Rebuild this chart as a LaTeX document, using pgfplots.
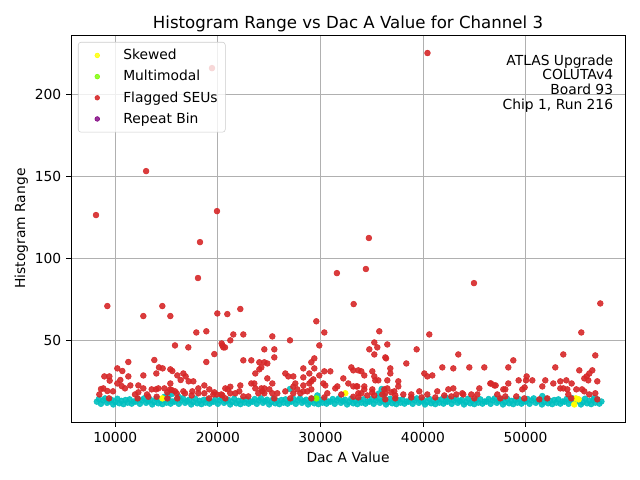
\documentclass[border=0pt]{standalone}
\usepackage{fontspec}
\setmainfont{DejaVu Sans}
\usepackage{pgfplots}
\pgfplotsset{compat=1.18}
\definecolor{cyanc}{HTML}{00BFBF}
\definecolor{redc}{HTML}{D62728}
\definecolor{yelc}{HTML}{FFFF00}
\definecolor{grnc}{HTML}{7CFC00}
\definecolor{purc}{HTML}{800080}
\definecolor{gridc}{HTML}{B0B0B0}
\begin{document}
\begin{tikzpicture}
\useasboundingbox (-0.71in,-0.58in) rectangle (5.69in,4.22in);
\begin{axis}[
  at={(0,0)}, anchor=south west,
  scale only axis, width=5.54in, height=3.87in,
  xmin=5680, xmax=59700, ymin=0.2, ymax=236.2,
  xtick={10000,20000,30000,40000,50000},
  ytick={50,100,150,200},
  scaled ticks=false,
  /pgf/number format/1000 sep={},
  /pgf/number format/assume math mode=true,
  ticklabel style={font=\fontsize{10}{12}\selectfont},
  tick pos=left, tick align=outside,
  major tick length=3.5pt,
  every tick/.style={black, line width=0.6pt},
  axis line style={line width=0.6pt},
  grid=major, grid style={gridc, line width=0.6pt},
  title={Histogram Range vs Dac A Value for Channel 3},
  title style={font=\fontsize{12}{14}\selectfont, yshift=-7pt},
  xlabel={Dac A Value}, ylabel={Histogram Range},
  ylabel style={yshift=-2pt},
  label style={font=\fontsize{10}{12}\selectfont},
  legend cell align=left,
  legend style={at={(0.0126,0.982)}, anchor=north west, draw=gray!40, rounded corners=2pt,
    fill=white, fill opacity=0.8, text opacity=1, font=\fontsize{10}{12}\selectfont,
    row sep=2.2pt, inner xsep=3.5pt, inner ysep=3pt},
  legend image code/.code={\path[draw=none,fill=none] (0cm,-0.05cm) rectangle (0.95cm,0.05cm); \draw[mark size=1.7pt] plot coordinates {(0.36cm,0cm)};},
]
% normal (cyan) band
\addplot[only marks, mark=*, mark size=2.1pt, color=cyanc, fill opacity=0.9, draw opacity=0.9, forget plot] coordinates {
(8200,12.6) (8400,14.2) (8600,11.3) (8800,13.4) (9000,14.6) (9200,11.9) (9400,12.9) (9600,13.8) (9800,10.9) (10000,12.3) (10200,14.4) (10400,11.6) (10600,13.1) (10800,11.1) (11000,13.6) (11200,12.0) (11400,14.0) (11600,11.4) (11800,12.7)
(12000,12.6) (12200,14.2) (12400,11.3) (12600,13.4) (12800,14.6) (13000,11.9) (13200,12.9) (13400,13.8) (13600,10.9) (13800,12.3) (14000,14.4) (14200,11.6) (14400,13.1) (14600,11.1) (14800,13.6) (15000,12.0) (15200,14.0) (15400,11.4) (15600,12.7)
(15800,12.6) (16000,14.2) (16200,11.3) (16400,13.4) (16600,14.6) (16800,11.9) (17000,12.9) (17200,13.8) (17400,10.9) (17600,12.3) (17800,14.4) (18000,11.6) (18200,13.1) (18400,11.1) (18600,13.6) (18800,12.0) (19000,14.0) (19200,11.4) (19400,12.7)
(19600,12.6) (19800,14.2) (20000,11.3) (20200,13.4) (20400,14.6) (20600,11.9) (20800,12.9) (21000,13.8) (21200,10.9) (21400,12.3) (21600,14.4) (21800,11.6) (22000,13.1) (22200,11.1) (22400,13.6) (22600,12.0) (22800,14.0) (23000,11.4) (23200,12.7)
(23400,12.6) (23600,14.2) (23800,11.3) (24000,13.4) (24200,14.6) (24400,11.9) (24600,12.9) (24800,13.8) (25000,10.9) (25200,12.3) (25400,14.4) (25600,11.6) (25800,13.1) (26000,11.1) (26200,13.6) (26400,12.0) (26600,14.0) (26800,11.4) (27000,12.7)
(27200,12.6) (27400,14.2) (27600,11.3) (27800,13.4) (28000,14.6) (28200,11.9) (28400,12.9) (28600,13.8) (28800,10.9) (29000,12.3) (29200,14.4) (29400,11.6) (29600,13.1) (29800,11.1) (30000,13.6) (30200,12.0) (30400,14.0) (30600,11.4) (30800,12.7)
(31000,12.6) (31200,14.2) (31400,11.3) (31600,13.4) (31800,14.6) (32000,11.9) (32200,12.9) (32400,13.8) (32600,10.9) (32800,12.3) (33000,14.4) (33200,11.6) (33400,13.1) (33600,11.1) (33800,13.6) (34000,12.0) (34200,14.0) (34400,11.4) (34600,12.7)
(34800,12.6) (35000,14.2) (35200,11.3) (35400,13.4) (35600,14.6) (35800,11.9) (36000,12.9) (36200,13.8) (36400,10.9) (36600,12.3) (36800,14.4) (37000,11.6) (37200,13.1) (37400,11.1) (37600,13.6) (37800,12.0) (38000,14.0) (38200,11.4) (38400,12.7)
(38600,12.6) (38800,14.2) (39000,11.3) (39200,13.4) (39400,14.6) (39600,11.9) (39800,12.9) (40000,13.8) (40200,10.9) (40400,12.3) (40600,14.4) (40800,11.6) (41000,13.1) (41200,11.1) (41400,13.6) (41600,12.0) (41800,14.0) (42000,11.4) (42200,12.7)
(42400,12.6) (42600,14.2) (42800,11.3) (43000,13.4) (43200,14.6) (43400,11.9) (43600,12.9) (43800,13.8) (44000,10.9) (44200,12.3) (44400,14.4) (44600,11.6) (44800,13.1) (45000,11.1) (45200,13.6) (45400,12.0) (45600,14.0) (45800,11.4) (46000,12.7)
(46200,12.6) (46400,14.2) (46600,11.3) (46800,13.4) (47000,14.6) (47200,11.9) (47400,12.9) (47600,13.8) (47800,10.9) (48000,12.3) (48200,14.4) (48400,11.6) (48600,13.1) (48800,11.1) (49000,13.6) (49200,12.0) (49400,14.0) (49600,11.4) (49800,12.7)
(50000,12.6) (50200,14.2) (50400,11.3) (50600,13.4) (50800,14.6) (51000,11.9) (51200,12.9) (51400,13.8) (51600,10.9) (51800,12.3) (52000,14.4) (52200,11.6) (52400,13.1) (52600,11.1) (52800,13.6) (53000,12.0) (53200,14.0) (53400,11.4) (53600,12.7)
(53800,12.6) (54000,14.2) (54200,11.3) (54400,13.4) (54600,14.6) (54800,11.9) (55000,12.9) (55200,13.8) (55400,10.9) (55600,12.3) (55800,14.4) (56000,11.6) (56200,13.1) (56400,11.1) (56600,13.6) (56800,12.0) (57000,14.0) (57200,11.4) (57400,12.7)
(14800,15.6) (15100,16.5) (15500,17.2) (16200,15.5) (27033,20.3) (35971,20.3) (35700,17.6) (36200,16.2) (51636,16.0) (42200,15.2) (56700,14.8) (29700,16.4)
};
% Skewed
\addplot[only marks, mark=*, mark size=2.1pt, color=yelc] coordinates {
(14586,14.6) (32428,17.7) (54918,14.6) (55178,14.0) (54756,10.9)
};
\addlegendentry{Skewed}
% Multimodal
\addplot[only marks, mark=*, mark size=2.1pt, color=grnc] coordinates {
(29601,14.6)
};
\addlegendentry{Multimodal}
% Flagged SEUs
\addplot[only marks, mark=*, mark size=2.1pt, color=redc, fill opacity=0.9, draw opacity=0.9] coordinates {
(8118,126.4) (13003,153.2) (18258,109.9) (18063,88.0) (19916,128.8) (19428,216.0) (40440,225.2) (44973,84.9) (34727,112.4) (34435,93.5) (31608,91.0)
(9224,70.9) (12734,64.8) (14586,70.9) (15366,64.8) (19948,66.4) (17901,54.8) (18876,55.5) (20436,46.9) (20534,45.7) (15821,46.9) (17121,45.7) (19656,41.6)
(11271,36.8) (13806,38.0) (18876,36.8) (10198,32.9) (10686,31.3) (11271,28.0) (8931,28.0) (9419,28.0) (9451,25.4) (10491,25.8) (10198,23.7) (10621,22.1)
(10946,20.7) (11466,22.5) (12246,22.5) (12734,28.6) (14261,33.5) (14619,32.9) (14001,29.8) (15366,32.3) (15561,31.3) (16049,28.6) (16634,29.8) (16861,28.0)
(16374,25.8) (17154,25.0) (17609,25.0) (15366,23.7) (18681,22.5) (18096,20.7) (19168,20.1) (19656,18.3) (20339,17.0) (8606,20.3) (8834,20.7) (8444,17.0)
(9224,19.1) (9776,18.9) (9386,14.6) (11921,17.0) (12246,18.3) (12181,14.6) (12734,20.7) (13091,17.0) (13221,15.6) (13546,20.1) (13969,20.1) (14196,20.7)
(14034,15.6) (14781,20.7) (15073,18.3) (15334,20.1) (15496,19.7) (15821,18.9) (15984,17.7) (15073,14.6) (16049,14.6) (16634,18.9) (16796,17.7) (17446,16.4)
(17511,18.9) (18096,17.7) (18681,17.7) (19136,14.6) (19559,17.0) (19883,17.0)
(20923,66.0) (22190,69.1) (33241,72.1) (29601,61.6) (30381,54.8) (21508,53.6) (22483,53.6) (25311,52.4) (21215,50.0) (27033,50.0) (20370,48.1) (20696,45.7)
(29893,46.9) (24531,44.5) (25506,44.5) (25506,39.6) (22483,37.8) (23263,37.8) (24043,36.6) (24531,36.6) (24823,35.9) (24238,33.5) (24043,32.3) (29406,39.0)
(29113,36.6) (28333,32.9) (28918,29.8) (29406,32.9) (23653,29.8) (26578,29.8) (26871,28.0) (27358,28.0) (24823,26.8) (28333,27.4) (29308,26.2) (29893,28.6)
(28918,23.7) (29113,25.0) (28333,22.5) (27553,23.7) (23263,23.7) (23555,23.7) (25311,23.7) (22190,22.5) (21215,21.7) (20728,20.7) (20956,20.1) (22093,18.9)
(23653,20.7) (24238,20.7) (24531,20.7) (24336,18.9) (25018,20.1) (26578,18.9) (27358,21.7) (27748,20.1) (28333,18.9) (28723,18.9) (29113,20.1) (28041,17.7)
(27358,17.7) (25798,17.7) (25311,17.7) (24531,17.7) (23946,17.7) (22971,15.8) (22483,15.8) (21703,17.7) (21215,17.7) (20436,16.4) (20728,14.6) (25506,14.6)
(27066,14.6) (29113,14.6) (30381,31.1) (30966,31.1) (30283,23.7) (30478,22.5) (30381,15.2) (30673,17.7) (31453,20.7) (31648,21.9) (32233,26.8) (32721,23.7)
(33013,33.5) (33208,31.7) (33696,31.7) (33208,21.9) (33598,21.9) (32038,17.0) (33208,15.6) (33696,15.2)
(35743,55.5) (40618,53.6) (35256,48.7) (36523,47.5) (35548,45.7) (34768,44.5) (39383,44.5) (35256,41.4) (36328,39.6) (36400,39.0) (43446,41.4) (38376,35.9)
(36816,32.9) (36816,29.8) (41886,33.5) (42958,32.9) (44518,33.5) (45981,33.5) (33988,31.1) (35061,31.1) (34281,28.6) (35256,28.0) (35353,25.6) (35646,25.6)
(36523,25.6) (37596,25.0) (37596,21.9) (40131,29.8) (40423,28.0) (40911,28.6) (33501,21.9) (34281,21.9) (34281,20.1) (35061,20.1) (35061,18.3) (36231,20.1)
(36523,20.7) (36913,18.3) (37206,18.9) (33696,17.7) (33988,17.7) (34573,16.4) (35256,16.4) (36036,17.0) (36328,17.7) (37303,16.4) (38083,17.0) (38863,17.0)
(38863,15.2) (39643,18.9) (40423,17.0) (41398,18.9) (41203,15.2) (42081,16.4) (42471,20.1) (42958,20.7) (42763,15.8) (43251,17.0) (43836,17.7) (43933,17.0)
(44713,17.0) (45006,14.6) (45298,17.0) (45493,20.7) (46566,23.7) (46956,22.5) (36328,14.0) (37303,14.6) (39871,15.2)
(57291,72.5) (55438,54.8) (53683,41.4) (56803,40.8) (48808,37.8) (48321,33.5) (52903,33.5) (55243,31.7) (56511,31.7) (56218,29.8) (55958,28.0) (55731,26.8)
(56121,25.6) (56998,25.0) (50108,28.0) (50043,25.6) (49328,25.6) (50661,25.6) (51928,25.6) (53391,25.0) (53976,25.6) (54496,23.7) (52708,23.7) (51636,21.9)
(48321,23.7) (47086,22.5) (46631,23.7) (47833,20.1) (48028,20.1) (49686,20.1) (49913,21.3) (53391,20.7) (53683,20.7) (54073,20.1) (54951,20.1) (55503,20.1)
(55731,18.9) (56218,17.0) (56803,17.7) (47248,17.0) (48028,15.8) (47541,14.6) (49101,15.8) (49881,14.6) (51343,14.0) (52123,14.6) (54171,17.0) (54463,14.6)
(56998,14.0)
};
\addlegendentry{Flagged SEUs}
% Repeat Bin
\addplot[only marks, mark=*, mark size=2.1pt, color=purc] coordinates {(1000,-50)};
\addlegendentry{Repeat Bin}
\node[anchor=north east, align=right, inner sep=0pt, font=\fontsize{10}{10.6}\selectfont] at (rel axis cs:0.979,0.95) {ATLAS Upgrade\\COLUTAv4\\Board 93\\Chip 1, Run 216};
\end{axis}
\end{tikzpicture}
\end{document}
